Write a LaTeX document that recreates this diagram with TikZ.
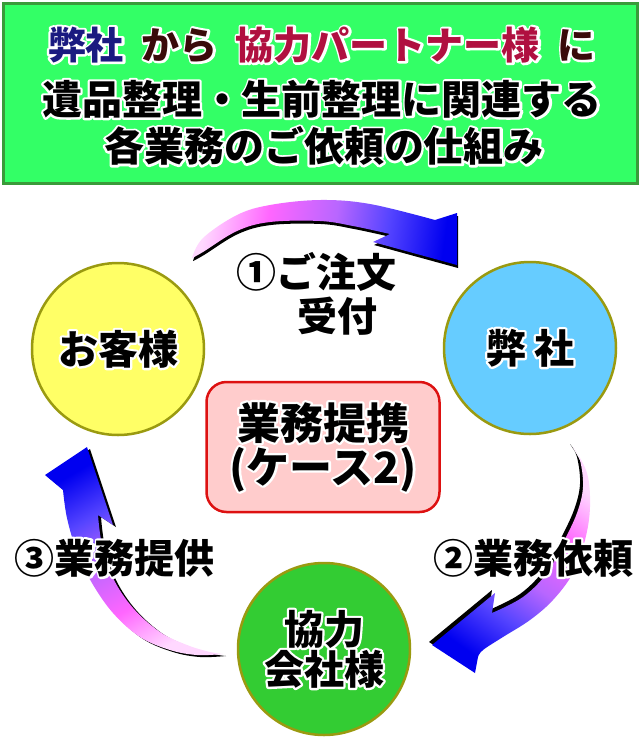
\documentclass[tikz,border=0pt]{standalone}
\usepackage{fontspec}
\newfontfamily\cjk{Noto Sans CJK JP}
\newif\ifhaloing
\newcommand\halo[1]{\leavevmode\rlap{\haloingtrue\special{pdf:literal direct 1 Tr 1 1 1 RG 4.5 w 1 j 1 J}#1\special{pdf:literal direct 0 Tr}}#1}
\newcommand\tc[2]{{\color{#1}\ifhaloing\special{pdf:literal direct 1 1 1 RG}\fi#2}}
\definecolor{bannerfill}{HTML}{33FF66}
\definecolor{bannerdraw}{HTML}{3A9A3A}
\definecolor{navyc}{HTML}{1A1A80}
\definecolor{brownc}{HTML}{3A0A0A}
\definecolor{crimc}{HTML}{B01040}
\definecolor{yelfill}{HTML}{FFFF66}
\definecolor{bluefill}{HTML}{66CCFF}
\definecolor{grnfill}{HTML}{33CC33}
\definecolor{olivec}{HTML}{9A9A10}
\definecolor{boxfill}{HTML}{FFCCCC}
\definecolor{boxdraw}{HTML}{DD1111}
\definecolor{gA}{HTML}{FFD8FF}
\definecolor{gB}{HTML}{FF66FF}
\definecolor{gC}{HTML}{B866FF}
\definecolor{gD}{HTML}{5544FF}
\definecolor{gE}{HTML}{0000F0}
\pgfdeclarehorizontalshading{arrowgrad}{100bp}{color(0bp)=(gA); color(25bp)=(gA); color(38bp)=(gB); color(52bp)=(gC); color(63bp)=(gD); color(75bp)=(gE); color(100bp)=(gE)}
\tikzset{
  circ/.style={circle, minimum size=172pt, line width=2.5pt, draw=olivec, inner sep=0pt,
    font=\cjk\bfseries\fontsize{40}{42}\selectfont, align=center},
  lbl/.style={font=\cjk\bfseries\fontsize{40}{44}\selectfont, inner sep=0pt, align=center},
  ttl/.style={font=\cjk\bfseries\fontsize{40}{44}\selectfont, inner sep=0pt},
  ttlone/.style={font=\cjk\bfseries\fontsize{38}{42}\selectfont, inner sep=0pt},
  shadowcol/.style={fill=black},
  grad/.style={shading=arrowgrad, shading angle=#1}
}
\newcommand\arrowA[1]{\path[#1] plot[smooth,tension=0.6] coordinates {(192,258) (203,238) (237,215) (270,205) (320,200) (370,204) (435,220)} -- (457,213) -- (457,265) -- (373,242) -- (390,234) -- plot[smooth,tension=0.6] coordinates {(390,234) (353,226) (320,221) (270,222) (237,231) (203,252) (192,258)} -- cycle;}
\newcommand\arrowB[1]{\path[#1] plot[smooth,tension=0.6] coordinates {(573,447) (587,473) (590,507) (585,540) (573,573) (553,600) (530,620) (503,637) (483,650) (478,657)} -- (475,673) -- (432,645) -- (495,593) -- (492,613) -- plot[smooth,tension=0.6] coordinates {(492,613) (523,597) (547,573) (563,543) (577,513) (583,487) (580,460) (573,447)} -- cycle;}
\newcommand\arrowC[1]{\path[#1] plot[smooth,tension=0.6] coordinates {(223,654) (197,655) (170,650) (140,637) (113,613) (92,583) (77,552) (67,518) (63,490)} -- (45,475) -- (87,447) -- (113,525) -- (98,515) -- plot[smooth,tension=0.6] coordinates {(98,515) (102,545) (113,578) (133,608) (160,632) (187,645) (210,652) (223,654)} -- cycle;}
\begin{document}
\begin{tikzpicture}[x=1pt,y=-1pt]
\useasboundingbox (0,0) rectangle (640,737);
\fill[white] (0,0) rectangle (640,737);
% banner
\node[draw=bannerdraw, fill=bannerfill, line width=3pt, minimum width=634pt, minimum height=180pt, anchor=north west, inner sep=0pt] (banner) at (2,2) {};
\node[ttlone] (t1) at (322,45) {\halo{\tc{navyc}{弊社}\hspace{18pt}\tc{brownc}{から}\hspace{18pt}\tc{crimc}{協力パートナー様}\hspace{18pt}\tc{brownc}{に}}};
\node[ttl] (t2) at (322,99) {\halo{遺品整理・生前整理に関連する}};
\node[ttl] (t3) at (324,146) {\halo{各業務のご依頼の仕組み}};
% arrows
\arrowA{shadowcol, shift={(1,3)}}
\arrowA{grad=-8}
\arrowB{shadowcol, shift={(-3,-3)}}
\arrowB{grad=235}
\arrowC{shadowcol, shift={(3,2)}}
\arrowC{grad=120}
% circles
\node[circ, fill=yelfill] (cust) at (118,349) {\halo{お客様}};
\node[circ, fill=bluefill] (us) at (530,348) {\halo{弊\hspace{8pt}社}};
\node[circ, fill=grnfill] (partner) at (324,649) {\halo{協力}\\[-2pt]\halo{会社様}};
% center box
\node[draw=boxdraw, fill=boxfill, line width=2.5pt, rounded corners=20pt, minimum width=233pt, minimum height=130pt, font=\cjk\bfseries\fontsize{43}{44}\selectfont, align=center] (case) at (323,447) {\halo{業務提携}\\\halo{(ケース2)}};
% labels
\node[lbl] (l1a) at (316,272) {\halo{①ご注文}};
\node[lbl] (l1b) at (337,316) {\halo{受付}};
\node[lbl] (l2) at (533,558) {\halo{②業務依頼}};
\node[lbl] (l3) at (115,558) {\halo{③業務提供}};
\end{tikzpicture}
\end{document}
